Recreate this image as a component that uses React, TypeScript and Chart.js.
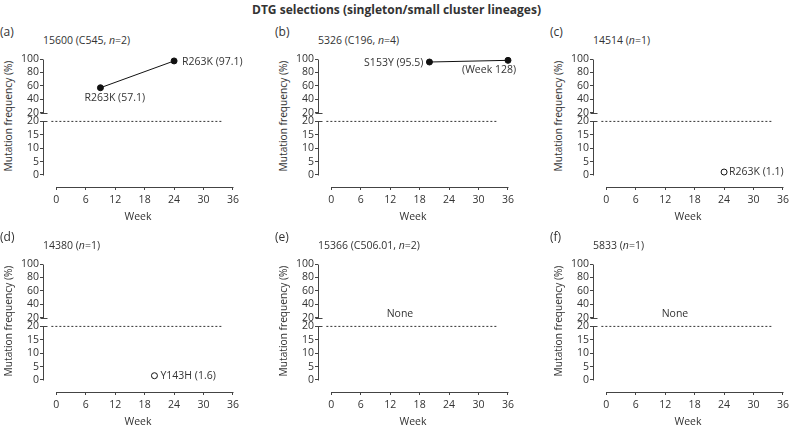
import React, { useEffect, useRef } from 'react';
import { Chart, registerables } from 'chart.js';
Chart.register(...registerables);

// ---------- data ----------
const chartTitle = 'DTG selections (singleton/small cluster lineages)';
const panelLetters = ['(a)', '(b)', '(c)', '(d)', '(e)', '(f)'];
const panelIds = ['15600', '5326', '14514', '14380', '15366', '5833'];
const panelClusters = ['C545', 'C196', '', '', 'C506.01', ''];
const panelN = [2, 4, 1, 1, 2, 1];

const weeksA = [9, 24];
const freqA = [57.1, 97.1];
const labelsA = ['R263K (57.1)', 'R263K (97.1)'];

const weeksB = [20, 36];
const freqB = [95.5, 98];
const labelsB = ['S153Y (95.5)', '(Week 128)'];

const weeksC = [24];
const freqC = [1.1];
const labelsC = ['R263K (1.1)'];

const weeksD = [20];
const freqD = [1.6];
const labelsD = ['Y143H (1.6)'];

const weeksE: number[] = [];
const freqE: number[] = [];
const labelsE: string[] = [];

const weeksF: number[] = [];
const freqF: number[] = [];
const labelsF: string[] = [];

const noneText = 'None';
const xTicks = [0, 6, 12, 18, 24, 30, 36];
const lowerTicks = [0, 5, 10, 15, 20];
const upperTicks = [20, 40, 60, 80, 100];
const threshold = 20;
const thresholdWeeks = [-1, 34];
const xLabel = 'Week';
const yLabel = 'Mutation frequency (%)';

// ---------- broken-axis transform ----------
const GAP = 3.28;
const toDisp = (v: number) => (v <= 20 ? v : 20 + GAP + (v - 20) / 4);
const yTickValues = [...lowerTicks.map((v) => v), ...upperTicks.map((v) => 20 + GAP + (v - 20) / 4)];
const yTickLabels = [...lowerTicks, ...upperTicks].map(String);

type Placement = { align: CanvasTextAlign; dx: number; dy: number };
type PanelCfg = {
  weeks: number[];
  freq: number[];
  labels: string[];
  filled: boolean;
  connect: boolean;
  placements: Placement[];
  none: boolean;
};

const panels: PanelCfg[] = [
  { weeks: weeksA, freq: freqA, labels: labelsA, filled: true, connect: true, none: false,
    placements: [{ align: 'left', dx: -16, dy: 10 }, { align: 'left', dx: 8, dy: 1 }] },
  { weeks: weeksB, freq: freqB, labels: labelsB, filled: true, connect: true, none: false,
    placements: [{ align: 'right', dx: -6, dy: 1 }, { align: 'right', dx: 8, dy: 10 }] },
  { weeks: weeksC, freq: freqC, labels: labelsC, filled: false, connect: false, none: false,
    placements: [{ align: 'left', dx: 5, dy: 0 }] },
  { weeks: weeksD, freq: freqD, labels: labelsD, filled: false, connect: false, none: false,
    placements: [{ align: 'left', dx: 6, dy: 0 }] },
  { weeks: weeksE, freq: freqE, labels: labelsE, filled: false, connect: false, none: true, placements: [] },
  { weeks: weeksF, freq: freqF, labels: labelsF, filled: false, connect: false, none: true, placements: [] },
];

const FONT = '"Open Sans", sans-serif';
const TEXT = '#333';
const AXIS = '#444';
const COL_LEFT = [0, 275, 550];
const ROW_TOP = [0, 205];

function PanelChart({ cfg }: { cfg: PanelCfg }) {
  const ref = useRef<HTMLCanvasElement>(null);
  useEffect(() => {
    if (!ref.current) return;
    const px = (v: number) => Math.round(v) + 0.5;
    const plugin = {
      id: 'panelDeco',
      afterDatasetsDraw(chart: any) {
        const ctx = chart.ctx as CanvasRenderingContext2D;
        const xs = chart.scales.x;
        const ys = chart.scales.y;
        const ax = px(chart.chartArea.left);
        const ay = px(chart.chartArea.bottom);
        ctx.save();
        ctx.strokeStyle = AXIS;
        ctx.lineWidth = 1;
        ctx.beginPath();
        const y0 = ys.getPixelForValue(0);
        const y20 = ys.getPixelForValue(20);
        const y20u = ys.getPixelForValue(toDisp(20.0001));
        const y100 = ys.getPixelForValue(toDisp(100));
        // lower y segment with break mark
        ctx.moveTo(ax, px(y0));
        ctx.lineTo(ax, px(y20));
        ctx.moveTo(ax - 3, px(y20));
        ctx.lineTo(ax + 4, px(y20));
        // upper y segment with break mark
        ctx.moveTo(ax, px(y20u));
        ctx.lineTo(ax, px(y100));
        ctx.moveTo(ax - 3, px(y20u));
        ctx.lineTo(ax + 4, px(y20u));
        // x axis
        ctx.moveTo(xs.getPixelForValue(0), ay);
        ctx.lineTo(xs.getPixelForValue(36) + 0.5, ay);
        ctx.stroke();

        ctx.fillStyle = TEXT;
        ctx.font = `10.5px ${FONT}`;
        ctx.textBaseline = 'middle';
        const meta = chart.getDatasetMeta(1);
        meta.data.forEach((el: any, j: number) => {
          const pl = cfg.placements[j];
          if (!pl) return;
          ctx.textAlign = pl.align;
          ctx.fillText(cfg.labels[j], el.x + pl.dx, el.y + pl.dy);
        });
        if (cfg.none) {
          ctx.textAlign = 'center';
          ctx.fillText(noneText, xs.getPixelForValue(14), ys.getPixelForValue(toDisp(26)));
        }
        ctx.restore();
      },
    };

    const chart = new Chart(ref.current, {
      type: 'line',
      data: {
        datasets: [
          {
            data: thresholdWeeks.map((w) => ({ x: w, y: threshold })),
            borderColor: '#333',
            borderWidth: 1,
            borderDash: [2, 2],
            pointRadius: 0,
            fill: false,
          },
          {
            data: cfg.weeks.map((w, i) => ({ x: w, y: toDisp(cfg.freq[i]) })),
            borderColor: '#111',
            borderWidth: 1,
            showLine: cfg.connect,
            pointRadius: 3,
            pointBorderWidth: 1,
            pointBorderColor: '#111',
            pointBackgroundColor: cfg.filled ? '#111' : '#fff',
            clip: false as any,
            fill: false,
          },
        ],
      },
      options: {
        animation: false,
        responsive: false,
        devicePixelRatio: 1,
        layout: { padding: { top: 8, right: 6, left: 0, bottom: 0 } },
        plugins: { legend: { display: false }, tooltip: { enabled: false }, title: { display: false } },
        scales: {
          x: {
            type: 'linear',
            min: -2.7,
            max: 36,
            afterBuildTicks: (s: any) => {
              s.ticks = xTicks.map((v) => ({ value: v }));
            },
            afterFit: (s: any) => {
              s.height = 36;
            },
            ticks: {
              autoSkip: false,
              maxRotation: 0,
              padding: 4,
              color: TEXT,
              font: { family: FONT, size: 10.5 },
              callback: (v: any) => String(v),
            },
            grid: { drawOnChartArea: false, drawTicks: true, tickLength: 3, color: AXIS, lineWidth: 1 },
            border: { display: false },
            title: { display: true, text: xLabel, color: TEXT, font: { family: FONT, size: 10.5 }, padding: { top: 0, bottom: 0 } },
          },
          y: {
            type: 'linear',
            min: -4.48,
            max: 40 + GAP,
            afterBuildTicks: (s: any) => {
              s.ticks = yTickValues.map((v) => ({ value: v }));
            },
            afterFit: (s: any) => {
              s.width = 43;
            },
            ticks: {
              autoSkip: false,
              padding: 1,
              color: TEXT,
              font: { family: FONT, size: 10.5 },
              callback: (_v: any, i: number) => yTickLabels[i],
            },
            grid: { drawOnChartArea: false, drawTicks: true, tickLength: 3, color: AXIS, lineWidth: 1 },
            border: { display: false },
          },
        },
      },
      plugins: [plugin],
    } as any);
    return () => chart.destroy();
  }, [cfg]);
  return <canvas ref={ref} width={243} height={172} style={{ width: 243, height: 172, display: 'block' }} />;
}

export default function App() {
  return (
    <div
      style={{
        position: 'fixed',
        left: 0,
        top: 0,
        width: 793,
        height: 427,
        overflow: 'hidden',
        background: '#fff',
        fontFamily: FONT,
        color: TEXT,
      }}
    >
      <div
        style={{
          position: 'absolute',
          top: 1,
          left: 0,
          width: 793,
          textAlign: 'center',
          fontWeight: 700,
          fontSize: 12,
          lineHeight: '18px',
        }}
      >
        {chartTitle}
      </div>
      {panels.map((cfg, i) => {
        const left = COL_LEFT[i % 3];
        const top = ROW_TOP[Math.floor(i / 3)];
        return (
          <div key={i} style={{ position: 'absolute', left, top, width: 243, height: 230 }}>
            <div style={{ position: 'absolute', left: 0, top: 24, fontSize: 12, lineHeight: '16px', whiteSpace: 'nowrap' }}>
              {panelLetters[i]}
            </div>
            <div style={{ position: 'absolute', left: 43, top: 32, fontSize: 10.5, lineHeight: '16px', whiteSpace: 'nowrap' }}>
              {panelIds[i]} ({panelClusters[i] ? panelClusters[i] + ', ' : ''}
              <i>n</i>={panelN[i]})
            </div>
            <div
              style={{
                position: 'absolute',
                left: 8 - 70,
                top: 116 - 8,
                width: 140,
                height: 16,
                lineHeight: '16px',
                fontSize: 10.2,
                textAlign: 'center',
                whiteSpace: 'nowrap',
                transform: 'rotate(-90deg)',
                transformOrigin: '50% 50%',
              }}
            >
              {yLabel}
            </div>
            <div style={{ position: 'absolute', left: 0, top: 51 }}>
              <PanelChart cfg={cfg} />
            </div>
          </div>
        );
      })}
    </div>
  );
}
